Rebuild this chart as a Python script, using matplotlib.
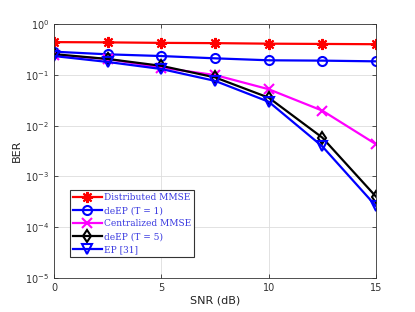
import matplotlib
matplotlib.use("Agg")
import matplotlib.pyplot as plt
import numpy as np

snr = [0, 2.5, 5, 7.5, 10, 12.5, 15]
dist_mmse = [0.44, 0.435, 0.425, 0.42, 0.41, 0.405, 0.40]
deep_t1 = [0.285, 0.253, 0.234, 0.211, 0.193, 0.19, 0.184]
cent_mmse = [0.245, 0.205, 0.138, 0.099, 0.052, 0.0197, 0.0043]
deep_t5 = [0.255, 0.205, 0.15, 0.089, 0.0355, 0.0058, 0.0004]
ep = [0.234, 0.179, 0.13, 0.076, 0.0295, 0.0039, 0.00026]

labels = ["Distributed MMSE", "deEP (T = 1)", "Centralized MMSE", "deEP (T = 5)", "EP [31]"]
series = [dist_mmse, deep_t1, cent_mmse, deep_t5, ep]
colors = ["#ff0000", "#0000ff", "#ff00ff", "#000000", "#0000ff"]
markers = [(8, 2, 0), "o", "x", "d", "v"]
sizes = [8, 6.5, 7, 6.5, 7]

fig = plt.figure(figsize=(4.15, 3.12), dpi=100)
ax = fig.add_axes([54/415, 1-278/312, (376-54)/415, (278-24)/312])

for y, lab, c, m, s in zip(series, labels, colors, markers, sizes):
    ax.plot(snr, y, color=c, marker=m, lw=1.6, ms=s, mew=1.5,
            markerfacecolor='none', label=lab)

ax.set_yscale('log')
ax.set_xlim(0, 15)
ax.set_ylim(1e-5, 1)
ax.set_xticks([0, 5, 10, 15])
ax.set_yticks([1e-5, 1e-4, 1e-3, 1e-2, 1e-1, 1])
ax.yaxis.set_minor_locator(matplotlib.ticker.NullLocator())
ax.grid(True, color='#dddddd', lw=0.6)
ax.set_axisbelow(True)
ax.tick_params(direction='in', top=True, right=True, labelsize=7, colors='#333333',
               length=3, width=0.6)
for s in ax.spines.values():
    s.set_color('#333333')
    s.set_linewidth(0.6)
ax.set_xlabel('SNR (dB)', fontsize=8, color='#222222', labelpad=2)
ax.set_ylabel('BER', fontsize=8, color='#222222', labelpad=2)

leg = ax.legend(loc='lower left', bbox_to_anchor=((70-54)/322, (278-257)/254),
                prop={'family': 'DejaVu Serif', 'size': 6.5}, fancybox=False,
                framealpha=1, edgecolor='#333333', borderpad=0.3, labelspacing=0.45,
                handlelength=3.2, handletextpad=0.3, borderaxespad=0)
leg.get_frame().set_linewidth(0.8)
for t in leg.get_texts():
    t.set_color('#3a3ae0')

fig.savefig('out.png', dpi=100)
